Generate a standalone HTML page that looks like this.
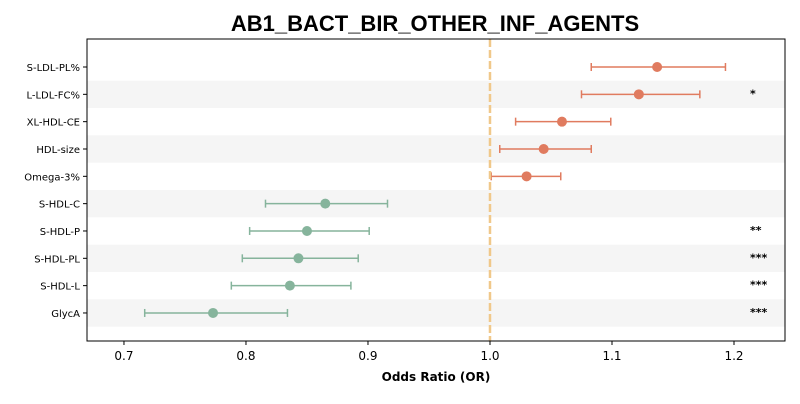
<!DOCTYPE html>
<html><head><meta charset="utf-8"><style>
body{margin:0;background:#fff;font-family:"DejaVu Sans",sans-serif}
</style></head><body>
<svg id="c" width="800" height="400" xmlns="http://www.w3.org/2000/svg" font-family="DejaVu Sans,sans-serif">
<text x="435" y="31" text-anchor="middle" font-size="22" font-weight="bold" font-family="Liberation Sans,sans-serif">AB1_BACT_BIR_OTHER_INF_AGENTS</text>
<g id="bands"></g><g id="marks"></g><g id="axes"></g>
</svg>
<script>
const categories=["S-LDL-PL%","L-LDL-FC%","XL-HDL-CE","HDL-size","Omega-3%","S-HDL-C","S-HDL-P","S-HDL-PL","S-HDL-L","GlycA"];
const orValues=[1.137,1.122,1.059,1.044,1.030,0.865,0.850,0.843,0.836,0.773];
const ciLow=[1.083,1.075,1.021,1.008,1.001,0.816,0.803,0.797,0.788,0.717];
const ciHigh=[1.193,1.172,1.099,1.083,1.058,0.916,0.901,0.892,0.886,0.834];
const stars=["","*","","","","","**","***","***","***"];
const xTicks=[0.7,0.8,0.9,1.0,1.1,1.2];
const NS="http://www.w3.org/2000/svg";
const L=87,R=785,T=39,B=341,x0=0.6697,x1=1.2418;
const xs=v=>L+(v-x0)/(x1-x0)*(R-L);
const step=27.33,ys=i=>67+i*step;
function mk(t,a,p){const e=document.createElementNS(NS,t);for(const k in a)e.setAttribute(k,a[k]);document.getElementById(p).appendChild(e);return e;}
categories.forEach((c,i)=>{
 if(i%2==1){const b=mk('rect',{x:L,y:ys(i)-step/2,width:R-L,height:step,fill:'#f5f5f5'},'bands');
 
 }
 const col=orValues[i]>=1?'#e07b5f':'#86b49c';
 const g=mk('g',{},'marks');
 
 
 const y=ys(i);
 const add=(t,a)=>{const e=document.createElementNS(NS,t);for(const k in a)e.setAttribute(k,a[k]);g.appendChild(e);return e;};
 add('line',{x1:xs(ciLow[i]),x2:xs(ciHigh[i]),y1:y,y2:y,stroke:col,'stroke-width':1.5});
 add('line',{x1:xs(ciLow[i]),x2:xs(ciLow[i]),y1:y-4,y2:y+4,stroke:col,'stroke-width':1.5});
 add('line',{x1:xs(ciHigh[i]),x2:xs(ciHigh[i]),y1:y-4,y2:y+4,stroke:col,'stroke-width':1.5});
 add('circle',{cx:xs(orValues[i]),cy:y,r:5,fill:col});
 const t=mk('text',{x:80,y:y+4,'text-anchor':'end','font-size':10},'axes');t.textContent=c;
 
 
 if(stars[i]){const s=mk('text',{x:750,y:y+3,'font-size':11,'font-weight':'bold'},'axes');s.textContent=stars[i];
 
 }
 mk('line',{x1:L-4,x2:L,y1:y,y2:y,stroke:'#000'},'axes');
});
const ref=mk('line',{x1:xs(1),x2:xs(1),y1:T,y2:B,stroke:'#f0c88a','stroke-width':2.5,'stroke-dasharray':'8,3'},'marks');


const fr=mk('rect',{x:L,y:T,width:R-L,height:B-T,fill:'none',stroke:'#000','stroke-width':1},'axes');


xTicks.forEach(v=>{mk('line',{x1:xs(v),x2:xs(v),y1:B,y2:B+4,stroke:'#000'},'axes');
 const t=mk('text',{x:xs(v),y:B+19,'text-anchor':'middle','font-size':12},'axes');t.textContent=v.toFixed(1);
 
 });
const xt=mk('text',{x:436,y:381,'text-anchor':'middle','font-size':12,'font-weight':'bold'},'axes');xt.textContent='Odds Ratio (OR)';


</script>
</body></html>
